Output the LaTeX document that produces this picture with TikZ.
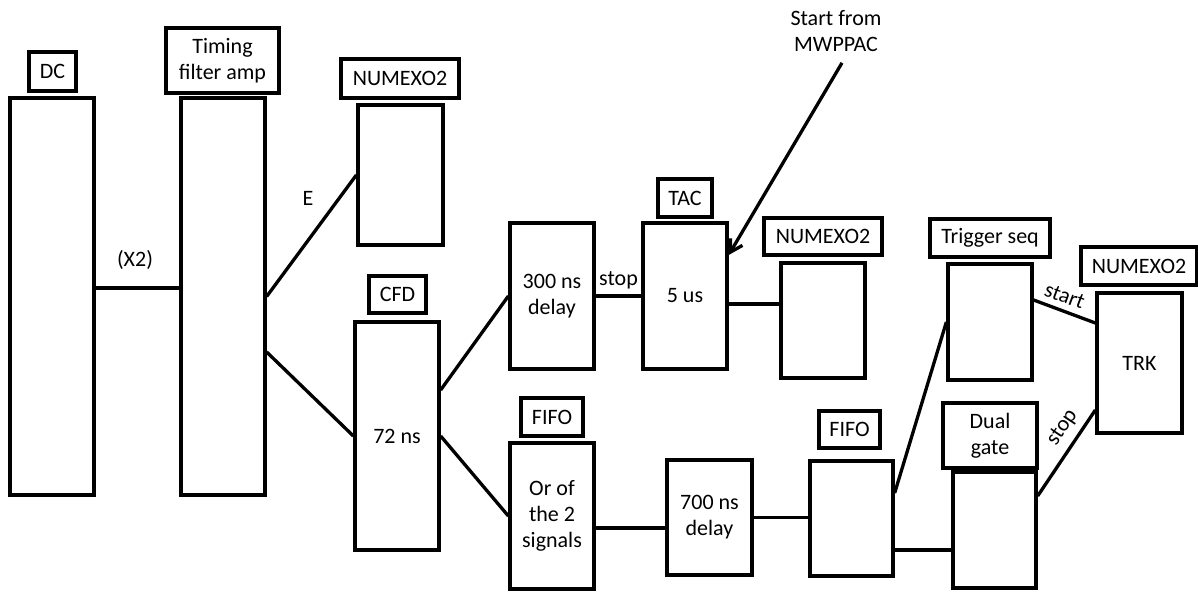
\documentclass[tikz,border=0pt]{standalone}
\usepackage{fontspec}
\setmainfont{Carlito}
\usetikzlibrary{arrows.meta,calc}
\begin{document}
\begin{tikzpicture}[x=1pt,y=-1pt,
  box/.style={draw, line width=3.3pt, rectangle, inner sep=0pt, align=center,
    font=\fontsize{22}{26}\selectfont},
  txt/.style={inner sep=1pt, align=center, font=\fontsize{22}{26}\selectfont},
  wire/.style={line width=3.3pt}]
\useasboundingbox (0,0) rectangle (1198,592);
% boxes
\node[box, minimum width=47pt, minimum height=39pt] (dcl) at (52.5,71.5) {DC};
\node[box, minimum width=84pt, minimum height=397pt] (dc) at (52,296.5) {};
\node[box, minimum width=113pt, minimum height=65pt] (tfal) at (222.5,60.5) {Timing\\filter amp};
\node[box, minimum width=84pt, minimum height=397pt] (tfa) at (223,296.5) {};
\node[box, minimum width=118pt, minimum height=39pt] (n1l) at (400,78.5) {NUMEXO2};
\node[box, minimum width=85pt, minimum height=140pt] (n1) at (400.5,175) {};
\node[box, minimum width=57pt, minimum height=37pt] (cfdl) at (397.5,294.5) {CFD};
\node[box, minimum width=84pt, minimum height=228pt] (cfd) at (397,436) {72 ns};
\node[box, minimum width=84pt, minimum height=146pt] (d300) at (552,296) {300 ns\\delay};
\node[box, minimum width=54pt, minimum height=38pt] (tacl) at (685,198) {TAC};
\node[box, minimum width=84pt, minimum height=146pt] (tac) at (685,296) {5 us};
\node[box, minimum width=118pt, minimum height=37pt] (n2l) at (823,236.5) {NUMEXO2};
\node[box, minimum width=84pt, minimum height=115pt] (n2) at (823,320.5) {};
\node[box, minimum width=62pt, minimum height=38pt] (fifol) at (552,417) {FIFO};
\node[box, minimum width=84pt, minimum height=146pt] (fifo) at (552,516) {Or of\\the 2\\signals};
\node[box, minimum width=85pt, minimum height=115pt] (d700) at (709.5,517.5) {700 ns\\delay};
\node[box, minimum width=61pt, minimum height=37pt] (fifo2l) at (849.5,429.5) {FIFO};
\node[box, minimum width=83pt, minimum height=115pt] (fifo2) at (851.5,518.5) {};
\node[box, minimum width=120pt, minimum height=38pt] (trgl) at (990,238) {Trigger seq};
\node[box, minimum width=84pt, minimum height=116pt] (trg) at (990,322) {};
\node[box, minimum width=94pt, minimum height=65pt] (dgl) at (990,435.5) {Dual\\gate};
\node[box, minimum width=83pt, minimum height=116pt] (dg) at (994.5,530) {};
\node[box, minimum width=116pt, minimum height=38pt] (n3l) at (1139,266) {NUMEXO2};
\node[box, minimum width=85pt, minimum height=140pt] (trk) at (1139.5,363) {TRK};
% free labels
\node[txt] (x2) at (135,260) {(X2)};
\node[txt] (e) at (308,198) {E};
\node[txt] (mw) at (836,31) {Start from\\MWPPAC};
% connectors
\draw[wire] ([yshift=8.5pt]dc.east) -- ([yshift=8.5pt]tfa.west);
\draw[wire] (tfa.east) -- (n1.west);
\draw[wire] ([yshift=-55.5pt]tfa.east) -- (cfd.west);
\draw[wire] ([yshift=46pt]cfd.east) -- (d300.west);
\draw[wire] (cfd.east) -- (fifo.west);
\draw[wire] (d300.east) -- node[txt, above=4pt] {stop} (tac.west);
\draw[wire] ([yshift=-8pt]tac.east) -- ([yshift=-8pt]tac.east -| n2.west);
\draw[wire] ([yshift=-12pt]fifo.east) -- ([yshift=-12pt]fifo.east -| d700.west);
\draw[wire] (d700.east) -- (d700.east -| fifo2.west);
\draw[wire] ([yshift=25.5pt]fifo2.east) -- (trg.west);
\draw[wire] ([yshift=-31.5pt]fifo2.east) -- ([yshift=-31.5pt]fifo2.east -| dg.west);
\draw[wire] ([yshift=22pt]trg.east) -- node[txt, sloped, above=5pt, pos=0.42] {start} ([yshift=40pt]trk.west);
\draw[wire] ([yshift=34pt]dg.east) -- node[txt, sloped, above=6pt, pos=0.68] {stop} ([yshift=-47pt]trk.west);
\draw[wire, -{Straight Barb[length=12pt,width=14pt,line width=3.3pt]}] ([xshift=6pt,yshift=-10pt]mw.south) -- ([yshift=41pt]tac.east);
\end{tikzpicture}
\end{document}
